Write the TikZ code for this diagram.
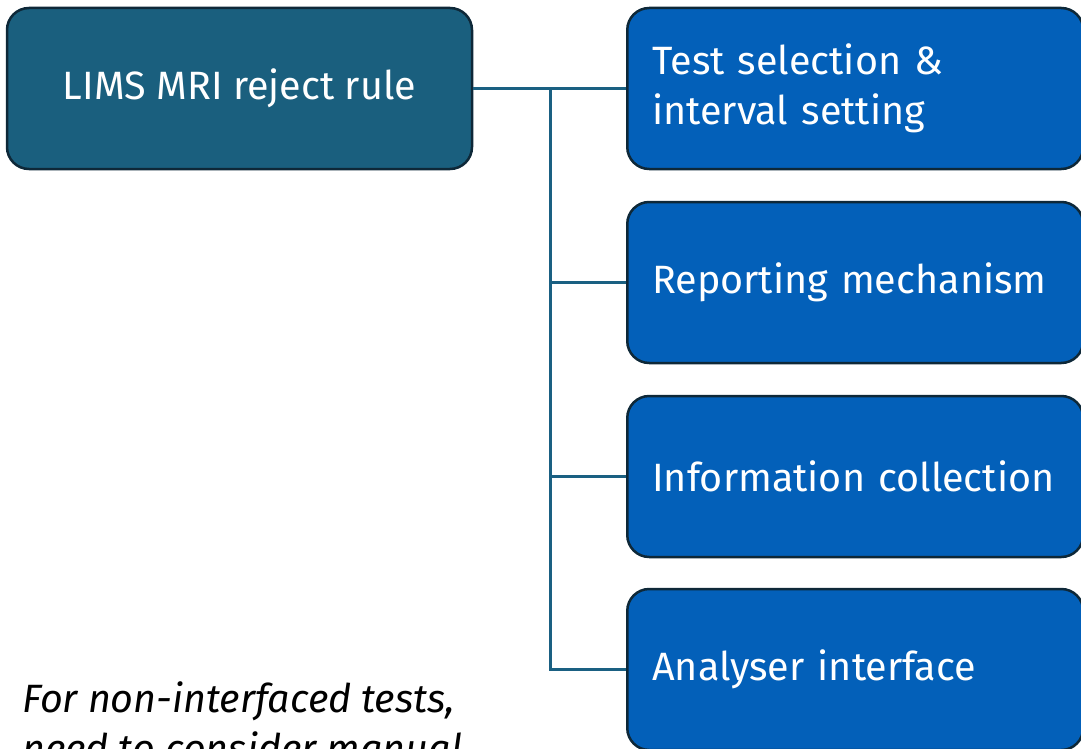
\documentclass[tikz,border=0pt]{standalone}
\usepackage{fontspec}
\setmainfont{Fira Sans}
\usepackage{tikz}
\usetikzlibrary{positioning}
\definecolor{rootfill}{HTML}{1A5F7E}
\definecolor{leaffill}{HTML}{0360B9}
\definecolor{edgeline}{HTML}{0E2838}
\definecolor{linkline}{HTML}{1A6082}

\begin{document}
\begin{tikzpicture}[x=1pt,y=-1pt,
  rootbox/.style={draw=edgeline,line width=2.5pt,fill=rootfill,rounded corners=22pt,
    minimum width=465pt,minimum height=161pt,text=white,font=\fontsize{39.5}{50}\selectfont},
  leafbox/.style={draw=edgeline,line width=2.5pt,fill=leaffill,rounded corners=22pt,
    anchor=west,minimum width=456pt,minimum height=161pt,inner xsep=25pt,
    text width=406pt,align=left,text=white,font=\fontsize{39.5}{50}\selectfont},
  link/.style={draw=linkline,line width=3pt}]
  \useasboundingbox (0,0) rectangle (1081,749);

  \node[rootbox] (rule) at (239.5,88.5) {LIMS MRI reject rule};
  \node[leafbox] (tests) at (626,88.5) {Test selection \&\\interval setting};
  \node[leafbox] (report) at (626,282.5) {Reporting mechanism};
  \node[leafbox] (info) at (626,476.5) {Information collection};
  \node[leafbox] (analyser) at (626,669.5) {Analyser interface};
  \coordinate (split) at (550,88.5);

  % connectors
  \draw[link] (rule.east) -- (tests.west);
  \draw[link] (split) |- (analyser.west);
  \draw[link] (split |- report.west) -- (report.west);
  \draw[link] (split |- info.west) -- (info.west);

  \node[anchor=base west,inner sep=0pt,align=left,font=\fontsize{39.5}{50}\selectfont\itshape] (note)
    at (22,762) {For non-interfaced tests,\\need to consider manual};
\end{tikzpicture}
\end{document}
